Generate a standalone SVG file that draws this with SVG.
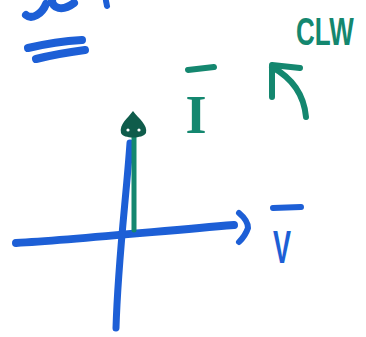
<svg xmlns="http://www.w3.org/2000/svg" width="366" height="337" viewBox="0 0 366 337">
<style>
.blue{fill:none;stroke:#1d5fd6;stroke-linecap:round;stroke-linejoin:round}
.green{fill:none;stroke:#14876f;stroke-linecap:round;stroke-linejoin:round}
.gt{font-family:"Liberation Sans",Arial,sans-serif;fill:#14876f;font-weight:bold}
.gs{font-family:"Liberation Serif","Times New Roman",serif;fill:#14876f;font-weight:bold}
.bt{font-family:"Liberation Sans",Arial,sans-serif;fill:#1d5fd6;font-weight:bold}
</style>
<rect width="366" height="337" fill="#ffffff"/>
<g id="top-left-marks">
<path class="blue" stroke-width="8" d="M26,15 C32,20 42,14 46,4 M52,0 C52,8 62,12 74,3"/>
<path class="blue" stroke-width="6" d="M106,1 L107,6"/>
<path class="blue" stroke-width="8" d="M28,48 C45,44 65,41 82,40 M36,59 C52,55 70,52 85,50"/>
</g>
<g id="axes">
<path class="blue" stroke-width="8" d="M16,243 C70,240 150,232 234,225"/>
<path class="blue" stroke-width="7" d="M130,143 C126,200 118,260 116,328"/>
<path class="blue" stroke-width="6" d="M239,213 C245,218 248,224 248,228 C246,234 243,238 239,242"/>
</g>
<g id="current-phasor">
<path class="green" stroke-width="5" d="M134,135 L134,230"/>
<path d="M133,111 C128,118 119,124 121,133 C123,139 143,139 146,133 C148,125 139,119 133,111 Z" fill="#0f5c4b"/>
<circle cx="128" cy="130" r="1.6" fill="#ffffff"/>
<circle cx="139" cy="130" r="1.6" fill="#ffffff"/>
</g>
<g id="label-I">
<path class="green" stroke-width="6" d="M188,70 L214,67"/>
<text class="gs" x="196" y="133" font-size="54" text-anchor="middle">I</text>
</g>
<g id="label-V">
<path class="blue" stroke-width="6" d="M273,208 L301,207"/>
<text class="bt" transform="translate(273,263) scale(0.75,1.3)" x="0" y="0" font-size="36">V</text>
</g>
<g id="ccw-arrow">
<path class="green" stroke-width="6" d="M306,117 C304,95 292,78 272,67"/>
<path class="green" stroke-width="6" d="M300,68 L272,65 L272,97"/>
<text class="gt" transform="translate(296,45) scale(1,1.5)" x="0" y="0" font-size="26">CLW</text>
</g>
</svg>
